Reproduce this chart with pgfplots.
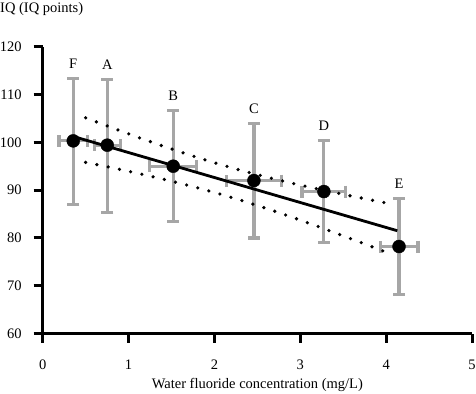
\documentclass[border=0pt]{standalone}
\usepackage{fontspec}
\setmainfont{Liberation Serif}
\usepackage{pgfplots}
\usepackage{pgfplotstable}
\pgfplotsset{compat=1.18}
\definecolor{errgray}{RGB}{166,166,166}
\pgfplotstableread{
x     y      ex     eyp   eym   lab
0.356 100.3  0.165  13.0  13.3  F
0.752 99.4   0.150  13.8  14.1  A
1.520 95.0   0.275  11.6  11.6  B
2.460 92.0   0.320  11.9  12.0  C
3.275 89.7   0.255  10.7  10.7  D
4.150 78.2   0.220  10.0  10.0  E
}\pts
\pgfplotstableread{
x     y
0.36  101.2
4.13  81.5
}\reg
\pgfplotstableread{
x     up      lo
0.50  105.12  95.81
0.80  103.09  94.71
1.10  101.11  93.55
1.40  99.21   92.31
1.70  97.41   90.97
2.00  95.73   89.51
2.30  94.18   87.92
2.60  92.76   86.20
2.90  91.46   84.36
3.20  90.25   82.43
3.50  89.11   80.43
3.80  88.02   78.40
4.08  87.03   76.45
}\band
\begin{document}
\fontsize{14.5bp}{17bp}\selectfont
\begin{tikzpicture}
\begin{axis}[
  scale only axis, width=429.3bp, height=286.8bp,
  xmin=0, xmax=5, ymin=60, ymax=120,
  axis x line=bottom, axis y line=left,
  axis line style={line width=3bp,-},
  xtick={0,1,2,3,4,5}, ytick={60,70,80,90,100,110,120},
  tick align=outside, major tick length=9bp,
  tick style={line width=3bp,black},
  /pgf/number format/assume math mode=true,
  tick label style={font=\fontsize{14.5bp}{17bp}\selectfont},
  xticklabel style={yshift=-12bp},
  yticklabel style={xshift=-7bp},
  label style={font=\fontsize{14.5bp}{17bp}\selectfont},
  xlabel={Water fluoride concentration (mg/L)},
  xlabel style={at={(rel axis cs:0.5,0)}, anchor=base, yshift=-54.5bp},
  clip=false,
]
\addplot[only marks, mark=*, mark size=0.01bp, mark options={draw=none, fill=none},
  error bars/.cd, x dir=both, y dir=both, x explicit, y explicit,
  error mark=|,
  error bar style={line width=3.2bp, draw=errgray},
  error mark options={line width=3.2bp, draw=errgray, mark size=6bp}]
  table[x=x, y=y, x error=ex, y error plus=eyp, y error minus=eym]{\pts};
\addplot[black, line width=2.8bp] table[x=x,y=y]{\reg};
\addplot[black, line width=3.6bp, line cap=round, dash pattern=on 0pt off 11.5bp] table[x=x,y=up]{\band};
\addplot[black, line width=3.6bp, line cap=round, dash pattern=on 0pt off 11.5bp] table[x=x,y=lo]{\band};
\addplot[only marks, mark=*, mark size=6.5bp, black] table[x=x,y=y]{\pts};
\node[anchor=south] at (axis cs:0.356,113.3) [yshift=5bp] {F};
\node[anchor=south] at (axis cs:0.752,113.2) [yshift=5bp] {A};
\node[anchor=south] at (axis cs:1.520,106.6) [yshift=5bp] {B};
\node[anchor=south] at (axis cs:2.460,103.9) [yshift=5bp] {C};
\node[anchor=south] at (axis cs:3.275,100.4) [yshift=5bp] {D};
\node[anchor=south] at (axis cs:4.150,88.2) [yshift=5bp] {E};
\node[anchor=base west, inner sep=0pt, xshift=-42.7bp, yshift=34.4bp] at (rel axis cs:0,1) {IQ (IQ points)};
\end{axis}
\pgfresetboundingbox
\path (current axis.south west) ++(-42.7bp,-60.5bp) rectangle ++(476bp,394bp);
\end{tikzpicture}
\end{document}
